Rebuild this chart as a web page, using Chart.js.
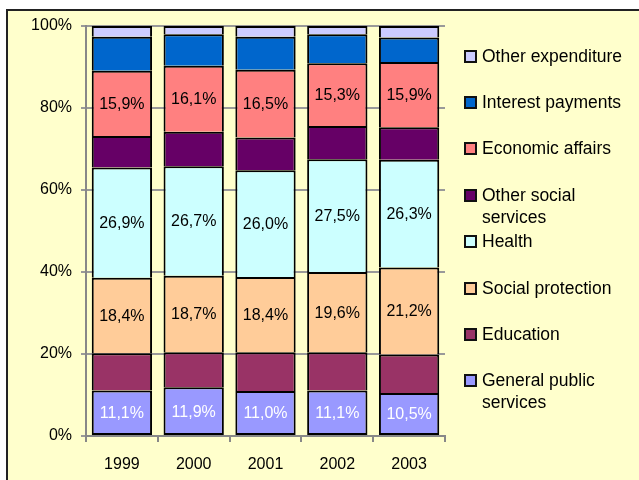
<!DOCTYPE html>
<html>
<head>
<meta charset="utf-8">
<script src="https://cdn.jsdelivr.net/npm/chart.js@4.4.0/dist/chart.umd.min.js"></script>
<style>
  body { margin: 0; background: #fff; width: 639px; height: 480px; overflow: hidden; position: relative; font-family: "Liberation Sans", Arial, sans-serif; }
  #frame { position: absolute; left: 6px; top: 9px; width: 640px; height: 480px; background: #FFFFCC; border: 2px solid #222; }
  #chart { position: absolute; left: 0; top: 0; }
  #legend { position: absolute; left: 0; top: 0; }
  .item { position: absolute; left: 464px; }
  .box { position: absolute; left: 0; top: 5px; width: 9px; height: 9px; border: 2px solid #111; }
  .txt { position: absolute; left: 18px; top: 0; width: 152px; font-size: 17.5px; line-height: 22px; color: #000; }
</style>
</head>
<body>
<div id="frame"></div>
<canvas id="chart" width="639" height="480"></canvas>
<div id="legend"></div>
<script>
const years = ["1999", "2000", "2001", "2002", "2003"];
const seriesNames = ["General public services", "Education", "Social protection", "Health",
  "Other social services", "Economic affairs", "Interest payments", "Other expenditure"];
const seriesColors = ["#9999FF", "#993366", "#FFCC99", "#CCFFFF", "#660066", "#FF8080", "#0066CC", "#CCCCFF"];

const generalPublic = [11.1, 11.9, 11.0, 11.1, 10.5];
const education = [9.1, 8.5, 9.4, 9.3, 9.4];
const socialProtection = [18.4, 18.7, 18.4, 19.6, 21.2];
const health = [26.9, 26.7, 26.0, 27.5, 26.3];
const otherSocial = [7.7, 8.4, 8.0, 8.1, 7.9];
const economicAffairs = [15.9, 16.1, 16.5, 15.3, 15.9];
const interestPayments = [8.3, 7.7, 8.1, 7.1, 6.0];
const otherExpenditure = [2.6, 2.0, 2.6, 2.0, 2.8];

const yTicks = [0, 20, 40, 60, 80, 100];

const seriesData = [generalPublic, education, socialProtection, health, otherSocial, economicAffairs, interestPayments, otherExpenditure];
// which series carry a value label, and in what colour
const labelColors = ["#ffffff", null, "#000000", "#000000", null, "#000000", null, null];

const FONT = "'Liberation Sans', Arial, sans-serif";

const datasets = seriesData.map((d, i) => ({
  label: seriesNames[i],
  data: d,
  backgroundColor: seriesColors[i],
  borderColor: "#000",
  // each segment draws its own top edge, so dividers stay 2px
  borderWidth: { top: 2, bottom: i === 0 ? 2 : 0, left: 2, right: 2 },
  borderSkipped: false,
  categoryPercentage: 1,
  barPercentage: 0.84
}));

// draws the percentage inside the labelled segments
const valueLabels = {
  id: "valueLabels",
  afterDatasetsDraw(chart) {
    const ctx = chart.ctx;
    ctx.save();
    ctx.font = "16px " + FONT;
    ctx.textAlign = "center";
    ctx.textBaseline = "middle";
    chart.data.datasets.forEach((ds, i) => {
      if (!labelColors[i]) return;
      ctx.fillStyle = labelColors[i];
      chart.getDatasetMeta(i).data.forEach((bar, j) => {
        const txt = ds.data[j].toFixed(1).replace(".", ",") + "%";
        ctx.fillText(txt, bar.x, (bar.y + bar.base) / 2 + 1);
      });
    });
    ctx.restore();
  }
};

new Chart(document.getElementById("chart"), {
  type: "bar",
  data: { labels: years, datasets: datasets },
  options: {
    responsive: false,
    animation: false,
    devicePixelRatio: 1,
    layout: { padding: { left: 0, right: 194, top: 26, bottom: 0 } },
    plugins: { legend: { display: false }, tooltip: { enabled: false } },
    scales: {
      x: {
        stacked: true,
        afterFit(scale) { scale.height = 44; },
        grid: { offset: true, drawOnChartArea: false, color: "#888", tickLength: 6, lineWidth: 2 },
        border: { color: "#888", width: 2 },
        ticks: { color: "#000", font: { size: 16, family: FONT }, padding: 13 }
      },
      y: {
        stacked: true,
        min: 0,
        max: 100,
        afterFit(scale) { scale.width = 86; },
        afterBuildTicks(scale) { scale.ticks = yTicks.map(v => ({ value: v })); },
        grid: { color: "#999", lineWidth: 2, tickLength: 5 },
        border: { color: "#888", width: 2 },
        ticks: { color: "#000", font: { size: 16, family: FONT }, padding: 9, callback: v => v + "%" }
      }
    }
  },
  plugins: [valueLabels]
});

// legend on the right, top item is the last series
const legend = document.getElementById("legend");
for (let k = 0; k < seriesNames.length; k++) {
  const i = seriesNames.length - 1 - k;
  const item = document.createElement("div");
  item.className = "item";
  item.style.top = (55.5 + k * 46.4 - 11) + "px";
  item.innerHTML = `<div class="box" style="background:${seriesColors[i]}"></div><div class="txt">${seriesNames[i]}</div>`;
  legend.appendChild(item);
}
</script>
</body>
</html>
